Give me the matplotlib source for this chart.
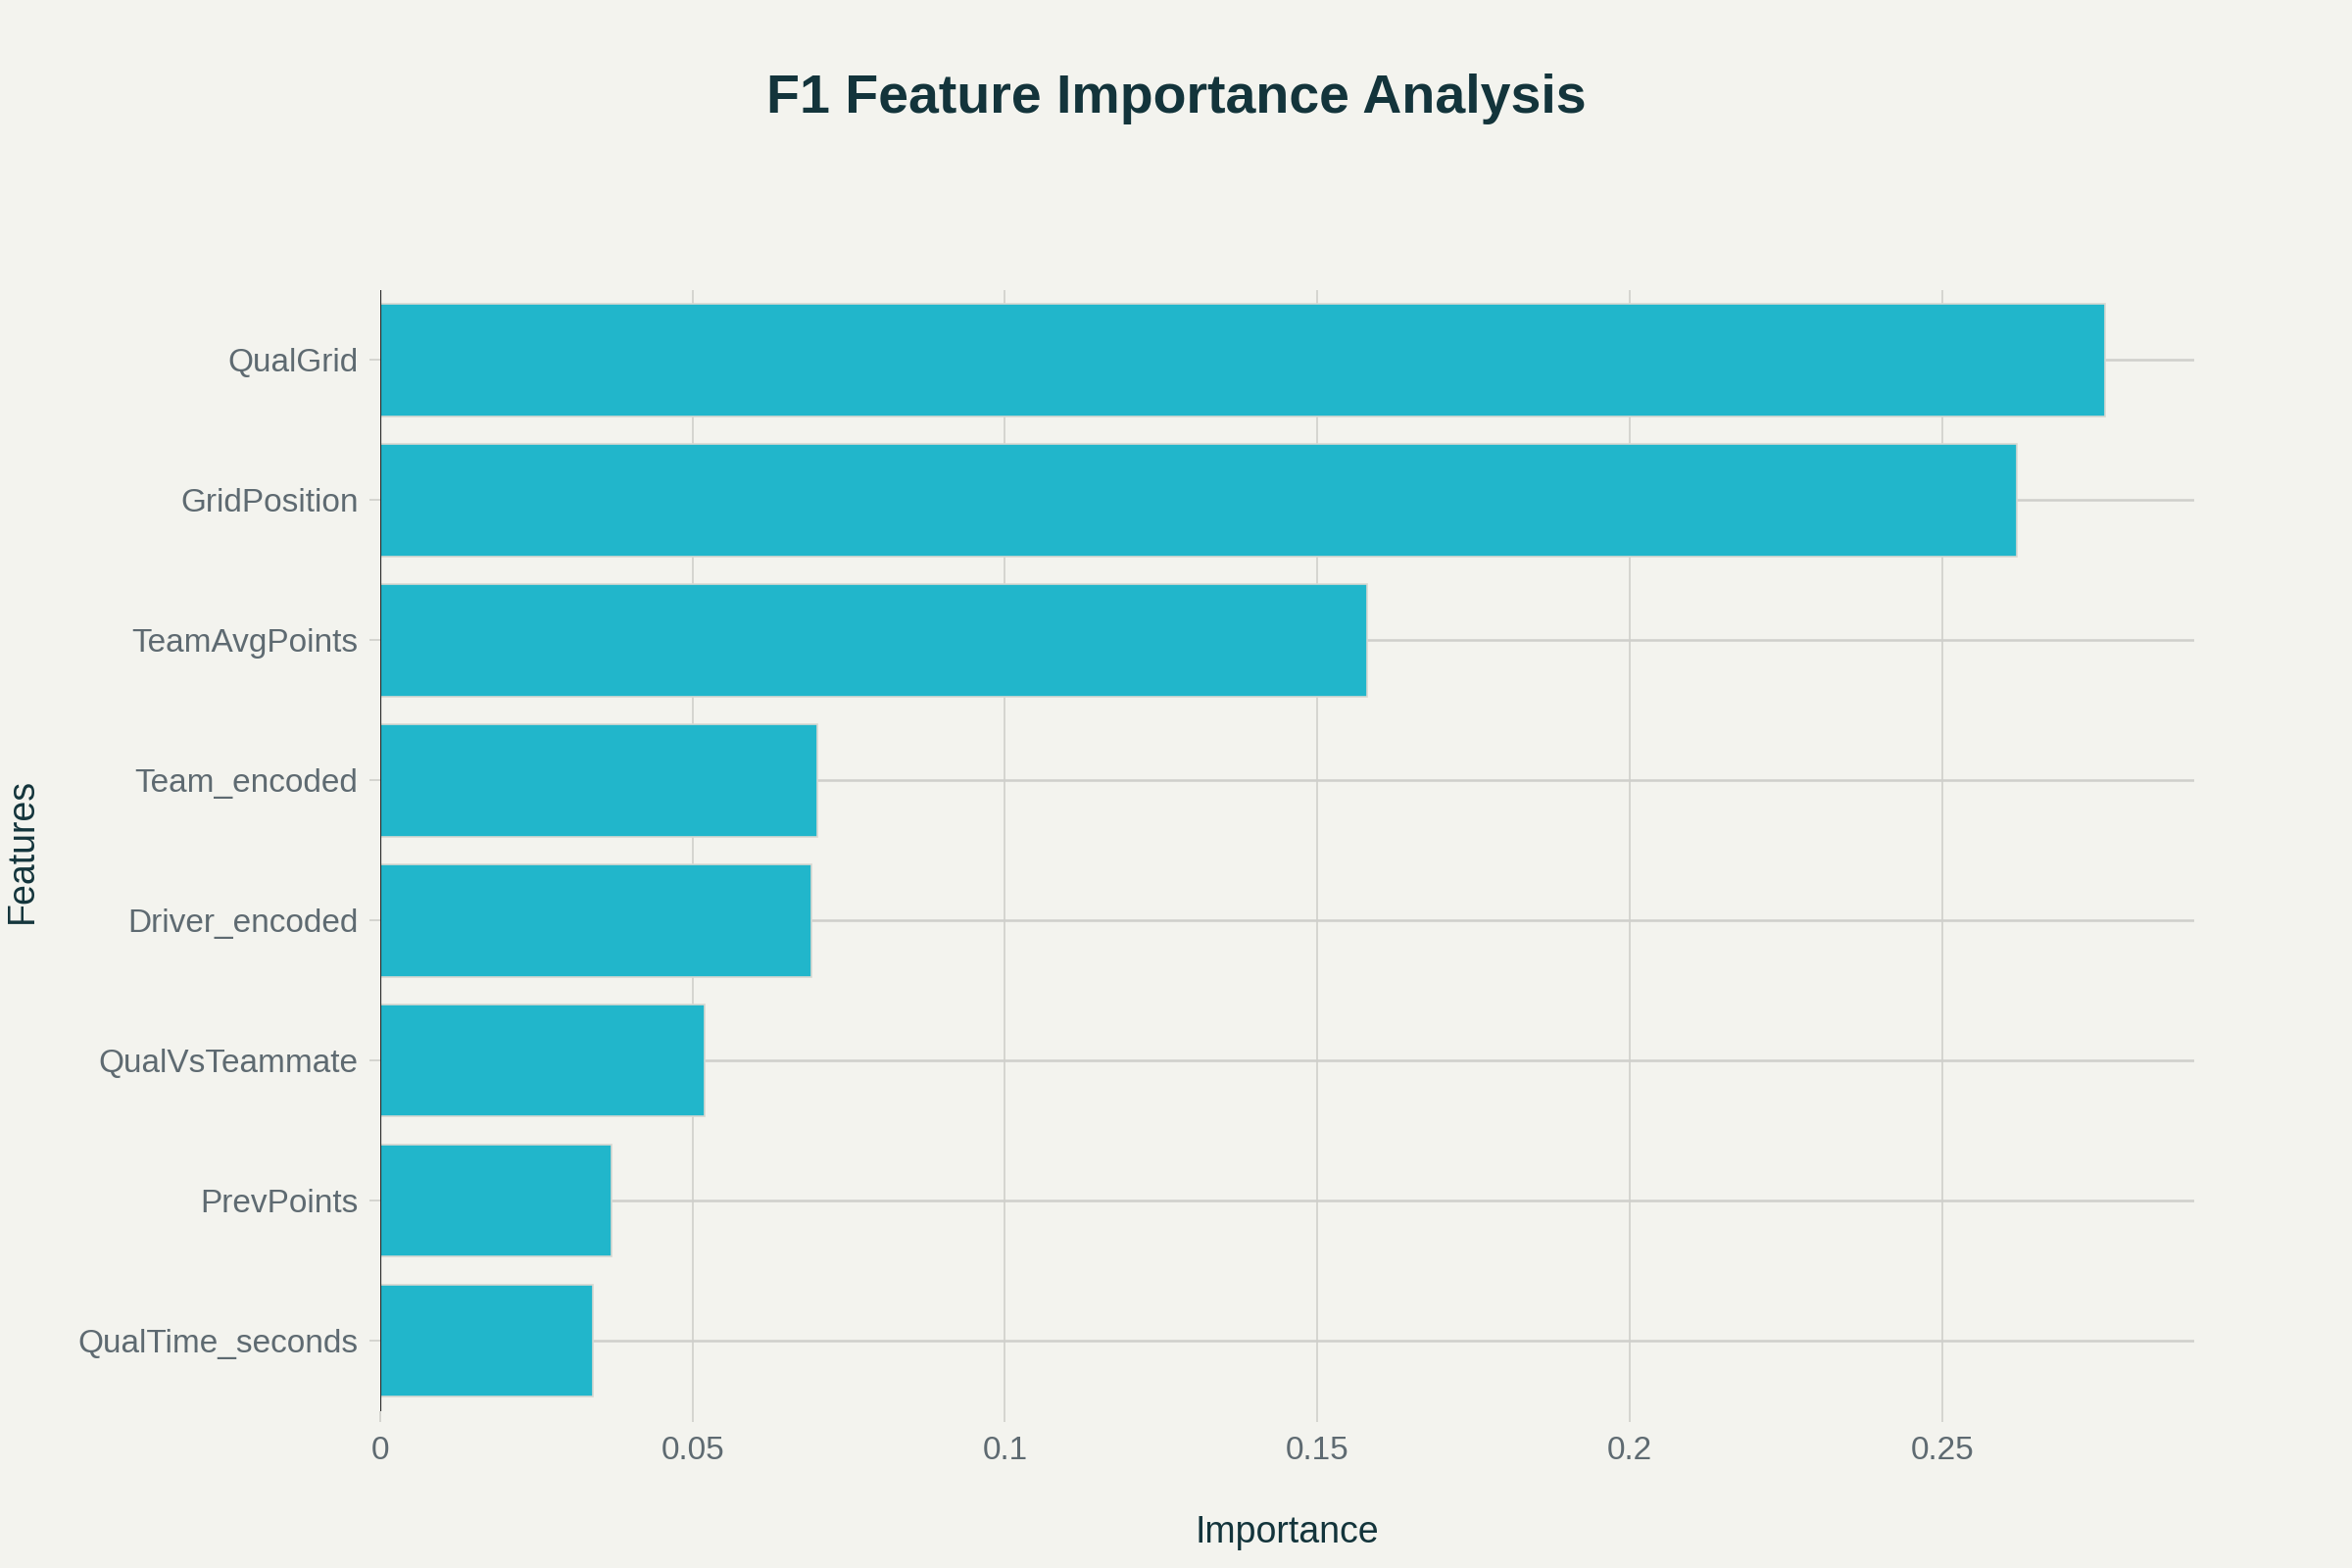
import matplotlib.pyplot as plt
import numpy as np

features = ["QualTime_seconds", "PrevPoints", "QualVsTeammate", "Driver_encoded",
            "Team_encoded", "TeamAvgPoints", "GridPosition", "QualGrid"]
importance = [0.034, 0.0371, 0.052, 0.069, 0.070, 0.158, 0.262, 0.276]
xticks = [0, 0.05, 0.1, 0.15, 0.2, 0.25]
xtick_labels = ["0", "0.05", "0.1", "0.15", "0.2", "0.25"]

bg = "#F3F3EE"
bar_color = "#21B6CB"
grid_color = "#CFCFCB"
dark = "#13343B"
tick_color = "#5E6A71"

plt.rcParams['font.family'] = ['Liberation Sans', 'DejaVu Sans']

fig = plt.figure(figsize=(12, 8), dpi=200, facecolor=bg)
ax = fig.add_axes([0.1616, 0.1002, 0.9331 - 0.1616, 0.815 - 0.1002])
ax.set_facecolor(bg)

y = np.arange(len(features))
ax.barh(y, importance, height=0.8, color=bar_color, edgecolor="#D8D8D2",
        linewidth=0.6, zorder=3)

ax.set_xlim(0, 0.2904)
ax.set_ylim(-0.5, len(features) - 0.5)
ax.set_xticks(xticks)
ax.set_xticklabels(xtick_labels)
ax.set_yticks(y)
ax.set_yticklabels(features)

ax.grid(axis="x", color=grid_color, linewidth=0.6, zorder=0)
ax.grid(axis="y", color=grid_color, linewidth=0.9, zorder=0)
ax.axvline(0, color="#2A2A2A", linewidth=0.8, zorder=4)

for s in ax.spines.values():
    s.set_visible(False)

ax.tick_params(axis="both", length=4, width=0.6, color=grid_color,
               labelcolor=tick_color, labelsize=12, pad=4)
ax.tick_params(axis="x", pad=5)

ax.set_xlabel("Importance", fontsize=13.5, color=dark, labelpad=18)
ax.set_ylabel("Features", fontsize=13.5, color=dark, labelpad=14)

fig.text(0.5, 0.937, "F1 Feature Importance Analysis", ha="center", va="center",
         fontsize=20, fontweight="bold", color=dark)

fig.savefig("out.png", dpi=200, facecolor=bg)
